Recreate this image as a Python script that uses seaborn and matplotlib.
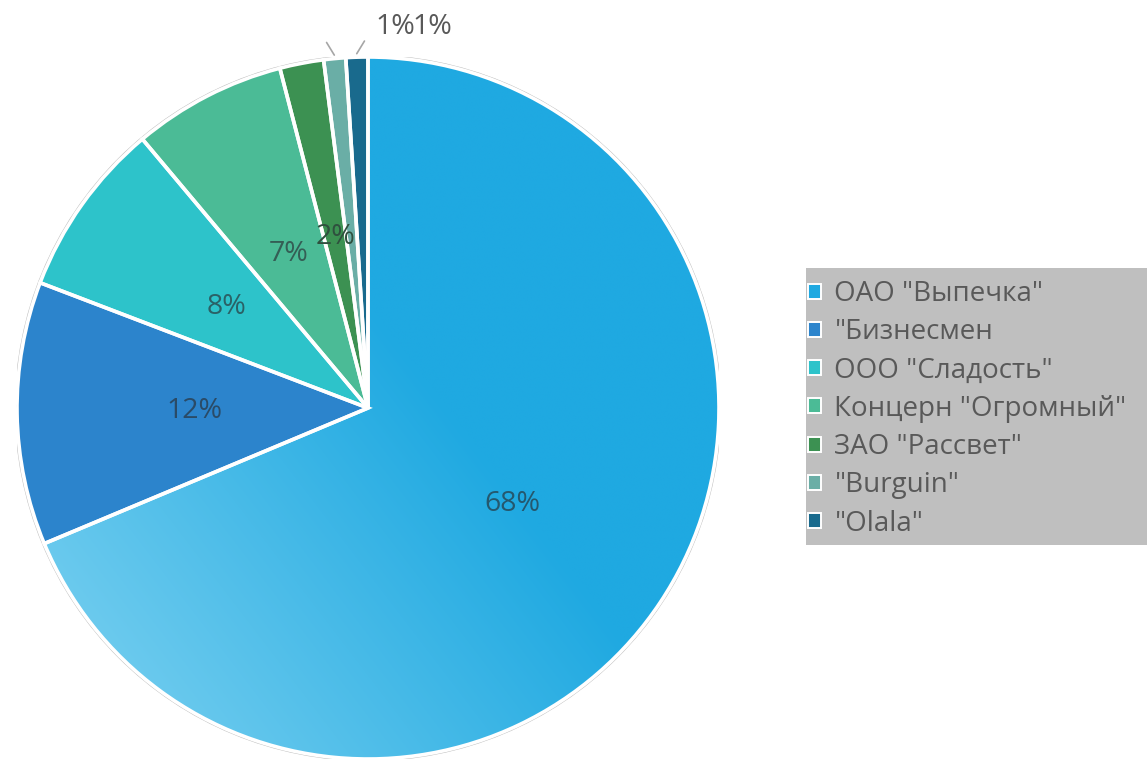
import numpy as np
import matplotlib
matplotlib.use("Agg")
import matplotlib.pyplot as plt
import matplotlib.patches as mpatches
import seaborn as sns

# Market share by company
companies = ['ОАО "Выпечка"', '"Бизнесмен', 'ООО "Сладость"', 'Концерн "Огромный"',
             'ЗАО "Рассвет"', '"Burguin"', '"Olala"']
shares = [68, 12, 8, 7, 2, 1, 1]
slice_colors = ["#1FA9E1", "#2C84CC", "#2DC3CA", "#4BBB96", "#3C9152", "#6AAEA6", "#196A8D"]

sns.set_theme(style="white")
plt.rcParams["font.family"] = ["Open Sans", "DejaVu Sans"]

fig = plt.figure(figsize=(11.47, 7.61), dpi=100)
W, H = 1147, 761
ax = fig.add_axes([17 / W, 2 / H, 702 / W, 702 / H])

wedges, _ = ax.pie(shares, colors=slice_colors, startangle=90, counterclock=False,
                   radius=1.0, wedgeprops=dict(edgecolor="none", linewidth=0))

# soft light-to-dark gradient on the largest slice
n = 500
xx, yy = np.meshgrid(np.linspace(-1, 1, n), np.linspace(-1, 1, n))
sx, sy, ex, ey = -0.72, -0.88, 0.3, -0.1
t = ((xx - sx) * (ex - sx) + (yy - sy) * (ey - sy)) / ((ex - sx) ** 2 + (ey - sy) ** 2)
t = np.clip(t, 0, 1)[..., None]
light = np.array([0x72, 0xCD, 0xEF]) / 255
dark = np.array([0x1F, 0xA9, 0xE1]) / 255
rgb = light * (1 - t) + dark * t
im = ax.imshow(rgb, extent=(-1, 1, -1, 1), origin="lower", zorder=1.5, interpolation="bilinear")
im.set_clip_path(wedges[0])

# outer rim and white separators
ax.add_patch(mpatches.Circle((0, 0), 1.004, facecolor="none", edgecolor="#BDBDBD", lw=1.2, zorder=2))
for w in wedges:
    ax.add_patch(mpatches.Wedge(w.center, w.r, w.theta1, w.theta2, facecolor="none",
                                edgecolor="white", lw=2.6, zorder=3))

# value labels
outside = []
for w, v, c in zip(wedges, shares, slice_colors):
    mid = np.deg2rad((w.theta1 + w.theta2) / 2)
    if v >= 2:
        rgb_c = np.array(matplotlib.colors.to_rgb(c))
        tc = 0.66 * np.array([0.16, 0.18, 0.2]) + 0.34 * rgb_c
        ax.text(0.495 * np.cos(mid), 0.495 * np.sin(mid), f"{v}%", ha="center", va="center",
                fontsize=20.5, color=tc, zorder=5)
    else:
        outside.append((w, v, mid))

# small slices: labels above the pie with short leader lines
for i, (w, v, mid) in enumerate(outside):
    x0, y0 = 1.01 * np.cos(mid), 1.01 * np.sin(mid)
    dx = -0.022 if i == 0 else 0.022
    ax.plot([x0, x0 + dx], [y0, y0 + 0.036], color="#A6A6A6", lw=1.2, zorder=4, clip_on=False)
    ax.text(0.077 + 0.107 * i, 1.085, f"{v}%", ha="center", va="center", fontsize=20.5,
            color="#595959", zorder=5, clip_on=False)

ax.set_xlim(-1, 1)
ax.set_ylim(-1, 1)
ax.set_aspect("equal")
ax.axis("off")

# legend on a grey panel
fig.patches.append(mpatches.Rectangle((806 / W, 1 - 545 / H), (W - 806) / W, (545 - 268) / H,
                                      transform=fig.transFigure, facecolor="#BFBFBF",
                                      edgecolor="none", zorder=0))
handles = [mpatches.Patch(facecolor=c, edgecolor="white", linewidth=1.4) for c in slice_colors]
leg = fig.legend(handles, companies, loc="upper left", bbox_to_anchor=(808 / W, 1 - 280 / H),
                 frameon=False, fontsize=20, labelcolor="#595959", handlelength=0.45,
                 handleheight=0.45, handletextpad=0.5, labelspacing=0.37, borderpad=0,
                 borderaxespad=0)

fig.savefig("out.png", dpi=100)
